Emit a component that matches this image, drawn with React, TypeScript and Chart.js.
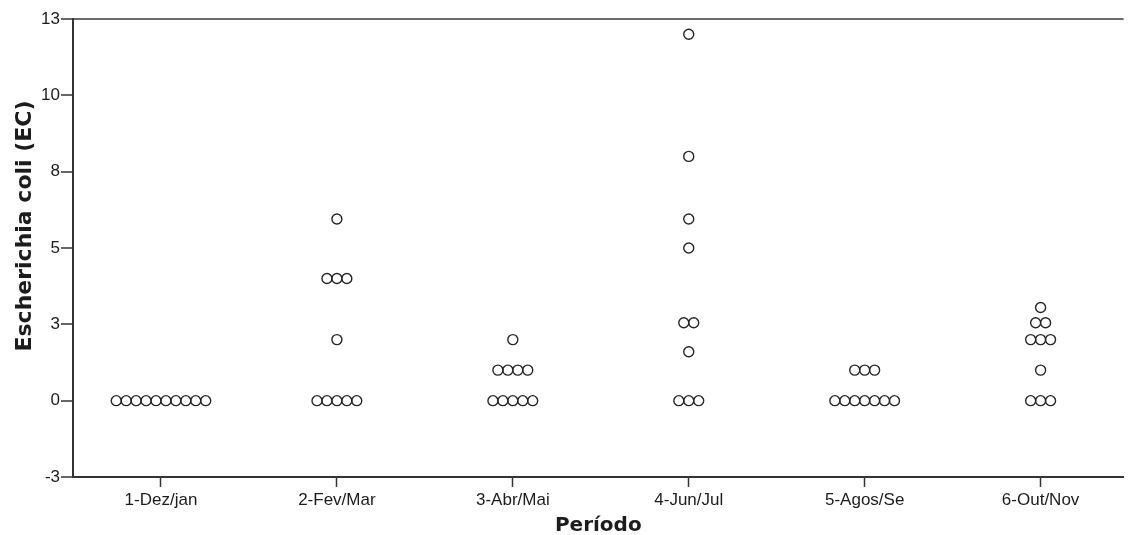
import React, { useEffect, useRef } from 'react';
import { Chart, registerables } from 'chart.js';

Chart.register(...registerables);

// ---- data ----
const CATEGORIES = ['1-Dez/jan', '2-Fev/Mar', '3-Abr/Mai', '4-Jun/Jul', '5-Agos/Se', '6-Out/Nov'];
const DEZ_JAN = [0, 0, 0, 0, 0, 0, 0, 0, 0, 0];
const FEV_MAR = [5.95, 4.0, 4.0, 4.0, 2.0, 0, 0, 0, 0, 0];
const ABR_MAI = [2.0, 1.0, 1.0, 1.0, 1.0, 0, 0, 0, 0, 0];
const JUN_JUL = [12.0, 8.0, 5.95, 5.0, 2.55, 2.55, 1.6, 0, 0, 0];
const AGOS_SE = [1.0, 1.0, 1.0, 0, 0, 0, 0, 0, 0, 0];
const OUT_NOV = [3.05, 2.55, 2.55, 2.0, 2.0, 2.0, 1.0, 0, 0, 0];
const SERIES = [DEZ_JAN, FEV_MAR, ABR_MAI, JUN_JUL, AGOS_SE, OUT_NOV];

const Y_TICK_VALUES = [-2.5, 0, 2.5, 5, 7.5, 10, 12.5];
const Y_TICK_LABELS = ['-3', '0', '3', '5', '8', '10', '13'];

const X_TITLE = 'Período';
const Y_TITLE = 'Escherichia coli (EC)';

// horizontal spacing between stacked dots, in category units
const DOT_STEP = 0.0565;

function buildPoints() {
  const pts: { x: number; y: number }[] = [];
  SERIES.forEach((vals, ci) => {
    const groups = new Map<number, number>();
    vals.forEach((v) => groups.set(v, (groups.get(v) || 0) + 1));
    groups.forEach((n, v) => {
      for (let j = 0; j < n; j++) {
        pts.push({ x: ci + 1 + (j - (n - 1) / 2) * DOT_STEP, y: v });
      }
    });
  });
  return pts;
}

const AXIS = '#333333';
const TEXT = '#1c1c1c';

// y-axis title, placed like the SPSS original (slightly above the axis centre)
const yTitlePlugin = {
  id: 'yTitle',
  afterDraw(chart: any) {
    const { ctx } = chart;
    ctx.save();
    ctx.translate(25, 226);
    ctx.rotate(-Math.PI / 2);
    ctx.font = "bold 22px 'DejaVu Sans', sans-serif";
    ctx.fillStyle = TEXT;
    ctx.textAlign = 'center';
    ctx.textBaseline = 'middle';
    ctx.fillText(Y_TITLE, 0, 0);
    ctx.restore();
  },
};

export default function App() {
  const ref = useRef<HTMLCanvasElement | null>(null);

  useEffect(() => {
    document.body.style.margin = '0';
    const canvas = ref.current!;
    const chart = new Chart(canvas, {
      type: 'scatter',
      data: {
        datasets: [
          {
            data: buildPoints(),
            pointStyle: 'circle',
            pointRadius: 5,
            pointBorderWidth: 1.4,
            pointBorderColor: '#262626',
            pointBackgroundColor: 'rgba(0,0,0,0)',
            showLine: false,
          },
        ],
      },
      plugins: [yTitlePlugin],
      options: {
        animation: false,
        responsive: false,
        devicePixelRatio: 1,
        events: [],
        layout: { padding: { top: 19, right: 0, bottom: 0, left: 0 } },
        plugins: {
          legend: { display: false },
          tooltip: { enabled: false },
        },
        scales: {
          x: {
            type: 'linear',
            min: 0.5,
            max: 0.5 + (1130 - 73) / 177,
            afterBuildTicks: (scale: any) => {
              scale.ticks = CATEGORIES.map((_, i) => ({ value: i + 1 }));
            },
            afterFit: (scale: any) => {
              scale.height = 58;
              scale.paddingLeft = 0;
              scale.paddingRight = 0;
            },
            border: { display: true, color: AXIS, width: 2 },
            grid: {
              drawOnChartArea: false,
              drawTicks: true,
              tickLength: 10,
              tickColor: AXIS,
              tickWidth: 1.5,
            },
            ticks: {
              autoSkip: false,
              maxRotation: 0,
              padding: 3,
              color: TEXT,
              font: { family: "'Liberation Sans', Arial, sans-serif", size: 17 },
              callback: (v: any) => CATEGORIES[Math.round(Number(v)) - 1] ?? '',
            },
            title: {
              display: true,
              text: X_TITLE,
              color: TEXT,
              padding: { top: 0, bottom: 0 },
              font: { family: "'DejaVu Sans', sans-serif", size: 20, weight: 'bold', lineHeight: 0.9 },
            },
          },
          y: {
            type: 'linear',
            min: -2.5,
            max: 12.5,
            afterBuildTicks: (scale: any) => {
              scale.ticks = Y_TICK_VALUES.map((v) => ({ value: v }));
            },
            afterFit: (scale: any) => {
              scale.width = 73;
              scale.paddingTop = 0;
              scale.paddingBottom = 0;
            },
            border: { display: true, color: AXIS, width: 2 },
            grid: {
              drawOnChartArea: true,
              drawTicks: true,
              tickLength: 12,
              tickColor: AXIS,
              tickWidth: 1.5,
              lineWidth: 2,
              color: (ctx: any) => (ctx.tick && ctx.tick.value === 12.5 ? '#6a6a6a' : 'rgba(0,0,0,0)'),
            },
            ticks: {
              padding: 1,
              color: TEXT,
              font: { family: "'Liberation Sans', Arial, sans-serif", size: 17 },
              callback: (v: any) => {
                const i = Y_TICK_VALUES.indexOf(Number(v));
                return i >= 0 ? Y_TICK_LABELS[i] : '';
              },
            },
            title: { display: false },
          },
        },
      },
    } as any);
    return () => chart.destroy();
  }, []);

  return <canvas ref={ref} width={1130} height={535} style={{ display: 'block' }} />;
}
